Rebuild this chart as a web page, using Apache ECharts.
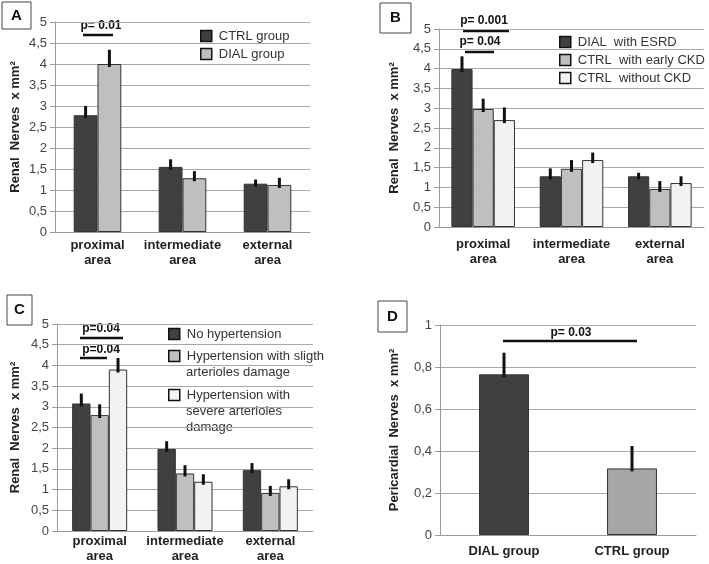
<!DOCTYPE html>
<html><head><meta charset="utf-8">
<script src="https://cdn.jsdelivr.net/npm/echarts@6/dist/echarts.min.js"></script>
<style>html,body{margin:0;padding:0;background:#fff}#c{width:709px;height:564px}</style>
</head><body><div id="c"></div>
<script>
// ---------- data ----------
const categoriesRenal = ['proximal\narea', 'intermediate\narea', 'external\narea'];
const categoriesPeri = ['DIAL group', 'CTRL group'];
const renalTicks = [0, 0.5, 1, 1.5, 2, 2.5, 3, 3.5, 4, 4.5, 5];
const periTicks = [0, 0.2, 0.4, 0.6, 0.8, 1];

// Panel A
const aCtrl = [2.78, 1.55, 1.15];
const aCtrlErr = [0.22, 0.18, 0.10];
const aDial = [4.00, 1.28, 1.12];
const aDialErr = [0.34, 0.17, 0.17];
// Panel B
const bDial = [3.99, 1.28, 1.28];
const bDialErr = [0.32, 0.20, 0.09];
const bEarly = [2.98, 1.47, 0.96];
const bEarlyErr = [0.26, 0.22, 0.20];
const bNoCkd = [2.70, 1.69, 1.11];
const bNoCkdErr = [0.32, 0.19, 0.17];
// Panel C
const cNoHyp = [3.08, 1.98, 1.47];
const cNoHypErr = [0.24, 0.19, 0.17];
const cSlight = [2.80, 1.39, 0.92];
const cSlightErr = [0.26, 0.20, 0.17];
const cSevere = [3.90, 1.19, 1.08];
const cSevereErr = [0.28, 0.18, 0.17];
// Panel D
const dValues = [0.765, 0.317];
const dErr = [0.103, 0.107];

// ---------- styles ----------
const F = '"Liberation Sans", Arial, sans-serif';
const DARK = '#404040', LIGHT = '#bfbfbf', WHITE = '#f2f2f2', MID = '#a6a6a6';
const fmt = v => String(+v.toFixed(1)).replace('.', ',');

function xAx(grid, data, margin) {
  return {
    type: 'category', gridIndex: grid, data: data,
    axisLine: { lineStyle: { color: '#9a9a9a' } },
    axisTick: { show: false },
    axisLabel: { interval: 0, fontFamily: F, fontWeight: 'bold', fontSize: 13, color: '#222', lineHeight: 15, margin: margin }
  };
}
function yAx(grid, ticks, name, gap) {
  return {
    type: 'value', gridIndex: grid, min: ticks[0], max: ticks[ticks.length - 1],
    interval: ticks[1] - ticks[0],
    name: name, nameLocation: 'middle', nameGap: gap,
    nameTextStyle: { fontFamily: F, fontWeight: 'bold', fontSize: 13, color: '#222' },
    axisLine: { show: true, lineStyle: { color: '#9a9a9a' } },
    axisTick: { show: true, length: 5, lineStyle: { color: '#9a9a9a' } },
    splitLine: { lineStyle: { color: '#a8a8a8' } },
    axisLabel: { fontFamily: F, fontSize: 13, color: '#444', margin: 8, formatter: fmt }
  };
}
function bar(name, grid, data, color, gap) {
  return {
    type: 'bar', name: name, xAxisIndex: grid, yAxisIndex: grid, data: data,
    barGap: '0%', barCategoryGap: gap, silent: true,
    itemStyle: { color: color, borderColor: '#333', borderWidth: 1 }
  };
}
function err(name, grid, vals, errs, idx, n, gapFrac) {
  return {
    type: 'custom', name: name, xAxisIndex: grid, yAxisIndex: grid, z: 10, silent: true,
    data: vals.map((v, i) => [i, v, errs[i]]),
    encode: { x: 0, y: 1 },
    renderItem: function (params, api) {
      const band = api.size([1, 0])[0];
      const total = band * (1 - gapFrac);
      const w = total / n;
      const c = api.coord([api.value(0), api.value(1)]);
      const t = api.coord([api.value(0), api.value(1) + api.value(2)]);
      const x = c[0] - total / 2 + w * (idx + 0.5);
      return { type: 'line', shape: { x1: x, y1: c[1] + 3, x2: x, y2: t[1] }, style: { stroke: '#111', lineWidth: 3 } };
    }
  };
}
function leg(name, left, top, label) {
  return {
    data: [name], left: left, top: top, orient: 'vertical', padding: 0,
    itemWidth: 11, itemHeight: 11, itemGap: 0, selectedMode: false, icon: 'rect',
    itemStyle: { borderColor: '#111', borderWidth: 1.5 },
    formatter: label ? () => label : undefined,
    textStyle: { fontFamily: F, fontSize: 13, color: '#333', lineHeight: 16, padding: [0, 0, 0, 2] }
  };
}
function legLine(txt, x, y) {
  return { type: 'text', x: x, y: y, style: { text: txt, font: '13px ' + F, fill: '#333', align: 'left', verticalAlign: 'middle' } };
}
function box(letter, x, y, w, h) {
  return [
    { type: 'rect', shape: { x: x, y: y, width: w, height: h }, style: { fill: '#fff', stroke: '#444', lineWidth: 1 } },
    { type: 'text', x: x + w / 2, y: y + h / 2, style: { text: letter, font: 'bold 15px ' + F, fill: '#111', align: 'center', verticalAlign: 'middle' } }
  ];
}
function pval(txt, tx, ty, x1, x2, ly) {
  return [
    { type: 'text', x: tx, y: ty, style: { text: txt, font: 'bold 12px ' + F, fill: '#111', align: 'center', verticalAlign: 'middle' } },
    { type: 'line', shape: { x1: x1, y1: ly, x2: x2, y2: ly }, style: { stroke: '#111', lineWidth: 2.5 } }
  ];
}

const gA = 0.44, gB = 0.28, gC = 0.355, gD = 0.61;
const RN = 'Renal  Nerves  x mm²';

const option = {
  animation: false,
  backgroundColor: '#fff',
  grid: [
    { left: 55, top: 22, width: 255, height: 210 },
    { left: 439, top: 29, width: 265, height: 198 },
    { left: 57, top: 324, width: 256, height: 210 },
    { left: 440, top: 325, width: 256, height: 210 }
  ],
  xAxis: [
    xAx(0, categoriesRenal, 6),
    xAx(1, categoriesRenal, 10),
    xAx(2, categoriesRenal, 3),
    xAx(3, categoriesPeri, 9)
  ],
  yAxis: [
    yAx(0, renalTicks, RN, 33),
    yAx(1, renalTicks, RN, 38),
    yAx(2, renalTicks, RN, 35),
    yAx(3, periTicks, 'Pericardial  Nerves  x mm²', 39)
  ],
  legend: [
    leg('CTRL group', 200, 36 - 8),
    leg('DIAL group', 200, 54 - 8),
    leg('DIAL  with ESRD', 559, 42 - 8),
    leg('CTRL  with early CKD', 559, 60 - 8),
    leg('CTRL  without CKD', 559, 78 - 8),
    leg('No hypertension', 168, 334 - 8),
    leg('Hypertension with sligth arterioles damage', 168, 356 - 8, 'Hypertension with sligth'),
    leg('Hypertension with severe arterioles damage', 168, 395 - 8, 'Hypertension with')
  ],
  series: [
    bar('CTRL group', 0, aCtrl, DARK, '44%'),
    bar('DIAL group', 0, aDial, LIGHT, '44%'),
    err('A ctrl err', 0, aCtrl, aCtrlErr, 0, 2, gA),
    err('A dial err', 0, aDial, aDialErr, 1, 2, gA),

    bar('DIAL  with ESRD', 1, bDial, DARK, '28%'),
    bar('CTRL  with early CKD', 1, bEarly, LIGHT, '28%'),
    bar('CTRL  without CKD', 1, bNoCkd, WHITE, '28%'),
    err('B dial err', 1, bDial, bDialErr, 0, 3, gB),
    err('B early err', 1, bEarly, bEarlyErr, 1, 3, gB),
    err('B nockd err', 1, bNoCkd, bNoCkdErr, 2, 3, gB),

    bar('No hypertension', 2, cNoHyp, DARK, '35.5%'),
    bar('Hypertension with sligth arterioles damage', 2, cSlight, LIGHT, '35.5%'),
    bar('Hypertension with severe arterioles damage', 2, cSevere, WHITE, '35.5%'),
    err('C nohyp err', 2, cNoHyp, cNoHypErr, 0, 3, gC),
    err('C slight err', 2, cSlight, cSlightErr, 1, 3, gC),
    err('C severe err', 2, cSevere, cSevereErr, 2, 3, gC),

    {
      type: 'bar', name: 'Pericardial nerves', xAxisIndex: 3, yAxisIndex: 3, barCategoryGap: '61%', silent: true,
      data: dValues.map((v, i) => ({ value: v, itemStyle: { color: i === 0 ? DARK : MID } })),
      itemStyle: { borderColor: '#333', borderWidth: 1 }
    },
    err('D err', 3, dValues, dErr, 0, 1, gD)
  ],
  graphic: [].concat(
    box('A', 2, 2, 29, 27),
    box('B', 380, 3, 31, 30),
    box('C', 7, 295, 25, 30),
    box('D', 378, 301, 29, 31),
    pval('p= 0.01', 101, 26, 83, 113, 35),
    pval('p= 0.001', 484, 21, 463, 509, 31),
    pval('p= 0.04', 480, 42, 465, 494, 52),
    pval('p=0.04', 101, 329, 80, 123, 338),
    pval('p=0.04', 101, 350, 80, 107, 358),
    pval('p= 0.03', 571, 333, 503, 637, 341),
    legLine('arterioles damage', 186, 372),
    legLine('severe arterioles', 186, 411),
    legLine('damage', 186, 427)
  )
};
const chart = echarts.init(document.getElementById('c'), null, { renderer: 'canvas' });
chart.setOption(option);
</script></body></html>
